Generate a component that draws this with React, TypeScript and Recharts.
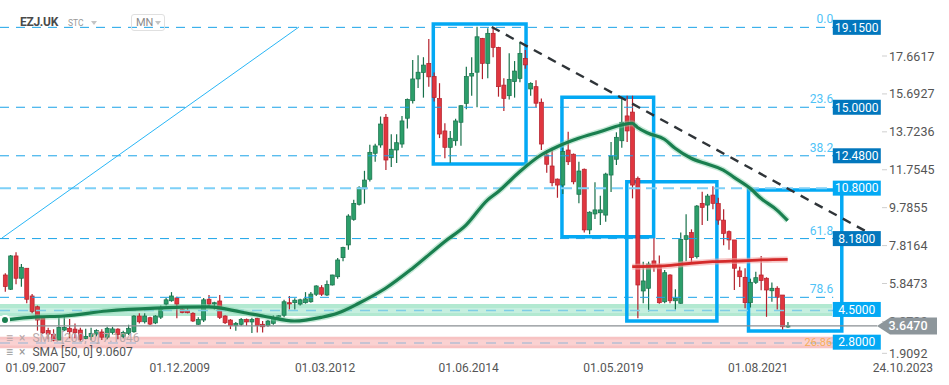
import React from 'react';
import {
  ComposedChart, Bar, Line, XAxis, YAxis, ReferenceLine, ReferenceArea, ReferenceDot,
} from 'recharts';

// monthly candles, EZJ.UK
const opens = [
  6.29, 5.55, 7.28, 6.12, 6.64, 5.2, 4.64, 4.07, 3.4, 3.21,
  2.91, 3.43, 3.52, 3.48, 3.43, 3.0, 3.09, 3.22, 3.33, 3.06,
  3.3, 3.48, 3.1, 3.26, 3.34, 4.16, 3.86, 4.07, 3.8, 4.1,
  4.78, 4.95, 5.1, 4.5, 4.45, 4.3, 3.73, 3.95, 5.03, 4.8,
  4.94, 4.16, 3.95, 3.66, 3.73, 3.98, 3.85, 4.04, 3.73, 3.66,
  3.78, 4.12, 4.2, 4.85, 4.85, 4.78, 4.85, 4.9, 5.29, 5.63,
  5.25, 5.77, 6.2, 7.19, 7.85, 9.18, 9.96, 10.76, 11.26, 12.61,
  13.04, 14.48, 12.38, 12.78, 13.09, 14.43, 15.34, 16.47, 16.8, 17.28,
  16.6, 15.45, 13.77, 12.92, 13.26, 14.22, 15.2, 16.62, 16.82, 18.58,
  17.28, 18.84, 18.11, 16.15, 15.6, 16.33, 16.5, 17.54, 15.95, 16.07,
  15.26, 12.52, 11.95, 11.27, 10.96, 12.78, 12.56, 10.48, 11.78, 8.63,
  9.46, 9.52, 9.4, 11.48, 12.3, 13.26, 14.55, 14.75, 11.31, 5.46,
  5.6, 7.02, 6.81, 4.9, 6.29, 4.95, 4.82, 8.14, 8.49, 7.24,
  10.01, 9.92, 10.44, 10.0, 9.14, 8.54, 8.11, 6.5, 6.17, 4.85,
  5.91, 6.29, 6.12, 5.47, 5.6, 5.25, 3.6,
];
const highs = [
  6.38, 7.33, 7.47, 6.86, 6.64, 5.3, 4.7, 4.12, 3.55, 3.47,
  4.12, 4.12, 4.0, 3.77, 3.55, 3.5, 3.55, 3.47, 3.47, 3.6,
  3.6, 3.52, 3.4, 3.7, 4.2, 4.3, 4.3, 4.12, 4.2, 4.7,
  5.1, 5.4, 5.16, 4.6, 4.6, 4.35, 4.1, 5.1, 5.25, 4.9,
  5.25, 4.2, 4.0, 3.85, 4.05, 4.03, 4.07, 4.07, 3.9, 3.95,
  4.2, 4.2, 5.0, 5.2, 5.08, 5.05, 5.4, 5.4, 5.76, 5.76,
  6.0, 6.3, 7.17, 7.76, 9.45, 10.2, 10.9, 11.7, 13.05, 13.1,
  14.52, 14.65, 13.6, 13.6, 14.55, 15.46, 17.45, 17.7, 17.6, 18.54,
  16.8, 16.25, 14.17, 13.77, 14.4, 15.1, 17.1, 17.6, 19.18, 18.6,
  19.1, 19.17, 18.14, 16.5, 17.8, 17.4, 18.4, 17.97, 16.3, 16.4,
  15.46, 12.78, 12.9, 11.3, 12.9, 13.73, 12.6, 12.17, 11.82, 9.6,
  11.1, 10.4, 11.6, 13.2, 13.7, 15.55, 15.6, 15.6, 11.4, 6.98,
  6.98, 8.2, 7.3, 6.55, 6.33, 5.55, 8.5, 9.45, 8.66, 9.92,
  10.61, 10.5, 10.9, 10.3, 9.7, 8.6, 8.11, 6.72, 6.64, 6.1,
  6.46, 7.27, 6.17, 5.9, 5.7, 5.25, 3.85,
];
const lows = [
  5.42, 5.51, 5.81, 5.68, 4.82, 4.3, 3.4, 3.23, 2.95, 2.85,
  2.91, 3.38, 3.0, 3.0, 2.88, 2.95, 2.9, 3.1, 2.91, 2.95,
  3.2, 2.95, 3.0, 3.17, 3.29, 3.77, 3.77, 3.69, 3.74, 4.0,
  4.7, 4.9, 4.04, 4.3, 4.3, 3.85, 3.7, 3.85, 4.6, 4.5,
  4.0, 3.75, 3.48, 3.4, 3.66, 3.65, 3.28, 3.3, 3.3, 3.6,
  3.7, 3.95, 4.1, 4.5, 4.5, 4.7, 4.8, 4.85, 5.2, 5.2,
  5.2, 5.75, 6.1, 7.0, 7.6, 9.1, 9.9, 10.0, 11.14, 12.17,
  12.9, 11.74, 11.9, 12.1, 12.9, 13.9, 15.2, 16.0, 15.5, 16.07,
  15.3, 13.4, 12.35, 12.12, 13.0, 13.0, 14.9, 15.6, 15.0, 16.46,
  16.5, 17.6, 15.55, 14.8, 15.4, 15.5, 16.3, 17.0, 15.6, 15.0,
  12.78, 11.6, 10.9, 10.3, 10.5, 12.0, 11.0, 10.01, 8.5, 8.4,
  9.2, 8.88, 9.05, 10.6, 12.0, 12.9, 13.2, 10.27, 4.04, 4.82,
  4.4, 6.46, 4.8, 4.82, 4.82, 4.5, 4.8, 7.0, 6.9, 7.15,
  8.88, 9.1, 9.7, 8.9, 7.84, 7.6, 5.51, 5.67, 4.56, 4.6,
  5.82, 5.5, 4.12, 4.9, 4.5, 3.46, 3.55,
];
const closes = [
  5.69, 7.28, 6.12, 6.69, 5.03, 4.4, 3.95, 3.29, 3.22, 2.91,
  3.57, 3.57, 3.34, 3.29, 2.95, 3.1, 3.26, 3.4, 3.06, 3.52,
  3.49, 3.2, 3.3, 3.52, 4.16, 3.86, 4.16, 3.74, 4.16, 4.6,
  5.0, 5.2, 4.78, 4.34, 4.33, 3.9, 3.98, 5.0, 4.78, 4.85,
  4.09, 3.81, 3.66, 3.78, 3.98, 3.85, 3.98, 3.66, 3.6, 3.9,
  4.09, 4.17, 4.9, 4.8, 4.98, 5.0, 5.05, 5.3, 5.72, 5.29,
  5.8, 6.29, 7.07, 7.71, 9.35, 10.01, 10.82, 11.22, 12.66, 12.99,
  14.13, 12.26, 12.82, 13.16, 14.29, 15.41, 16.47, 16.82, 17.19, 16.58,
  15.5, 13.61, 12.92, 13.39, 14.29, 15.08, 16.59, 16.76, 18.66, 17.28,
  18.84, 18.11, 16.07, 15.46, 16.45, 16.88, 17.8, 17.2, 16.24, 15.21,
  13.09, 12.04, 11.08, 10.96, 12.7, 12.17, 11.13, 11.69, 8.63, 9.55,
  9.67, 9.67, 11.53, 12.47, 13.44, 14.22, 13.77, 10.96, 5.77, 5.98,
  6.86, 6.72, 4.85, 6.41, 4.95, 5.08, 8.14, 8.33, 7.19, 9.87,
  9.8, 10.39, 10.01, 9.14, 8.45, 8.11, 6.64, 6.2, 4.85, 5.91,
  6.15, 6.0, 5.51, 5.6, 5.13, 3.6, 3.65,
];

// SMA readings at some candle indices
const sma50Idx = [0, 6, 11, 19, 28, 38, 44, 49, 54, 59, 62, 66, 71, 76, 82, 86, 90, 92, 96, 100, 103, 107, 111, 115, 117, 118, 120, 123, 125, 128, 131, 134, 136, 139, 141, 144, 146];
const sma50Val = [3.95, 4.11, 4.16, 4.42, 4.57, 4.63, 4.37, 4.11, 3.9, 4.09, 4.3, 4.82, 5.6, 6.63, 8.02, 8.88, 10.18, 10.61, 11.65, 12.52, 12.95, 13.39, 13.73, 14.08, 14.17, 13.95, 13.65, 13.34, 12.87, 12.35, 12.05, 11.74, 11.36, 10.79, 10.27, 9.66, 9.11];
const sma200Idx = [117, 123, 128, 132, 138, 141, 146];
const sma200Val = [6.72, 6.76, 6.9, 6.98, 7.03, 7.07, 7.1];

const xTickIdx = [5.7, 32.6, 59.7, 86.5, 113.5, 140.5, 167.5];
const xTickLabels = ['01.09.2007', '01.12.2009', '01.03.2012', '01.06.2014', '01.05.2019', '01.08.2021', '24.10.2023'];
const yTicks = [17.6617, 15.6927, 13.7236, 11.7545, 9.7855, 7.8164, 5.8473, 3.8782, 1.9092];

const priceLevels = [19.15, 15.0, 12.48, 10.8, 8.18, 4.5, 2.8];
const lightLevels = [10.8, 4.5, 2.8];
const fibRatios = ['0.0', '23.6', '38.2', '61.8', '78.6'];
const fibPrices = [19.15, 15.0, 12.48, 8.18, 5.13];
const lastPrice = 3.647;

// drawn boxes [idxFrom, idxTo, priceTop, priceBottom]
const boxes = [
  [79.9, 97.2, 19.32, 12.05],
  [103.9, 121.0, 15.52, 8.28],
  [116.0, 132.8, 11.13, 3.9],
  [138.7, 156.1, 10.7, 3.38],
];

const X_MIN = -0.93;
const X_MAX = 176.1;
const Y_DOMAIN = [1.875, 20.57];
const LINE_END = 154.5;
const TAG_X = 158.9;

const candles = opens.map((o, i) => {
  const a = sma50Idx.indexOf(i);
  const b = sma200Idx.indexOf(i);
  return {
    i, open: o, high: highs[i], low: lows[i], close: closes[i],
    sma50: a >= 0 ? sma50Val[a] : null,
    sma200: b >= 0 ? sma200Val[b] : null,
  };
});

const Candle = (props: any) => {
  const { x, y, width, height, payload } = props;
  if (!payload || x == null) return null;
  let top = y;
  let h = height;
  if (h < 0) { top = y + h; h = -h; }
  const { open, close, high, low } = payload;
  const k = high - low > 0 ? h / (high - low) : 0;
  const yO = top + (high - open) * k;
  const yC = top + (high - close) * k;
  const up = close >= open;
  const fill = up ? '#2c9e6a' : '#e0363f';
  const edge = up ? '#17704a' : '#b3202b';
  const cx = x + width / 2;
  return (
    <g>
      <line x1={cx} x2={cx} y1={top} y2={top + h} stroke={edge} strokeWidth={1.2} />
      <rect x={x} y={Math.min(yO, yC)} width={width} height={Math.max(1.2, Math.abs(yO - yC))} fill={fill} stroke={edge} strokeWidth={0.7} />
    </g>
  );
};

const YTick = (props: any) => {
  const { y, payload } = props;
  const ty = payload.value < 2 ? y - 6 : y;
  return (
    <g>
      <line x1={882} x2={887} y1={ty} y2={ty} stroke="#cfcfcf" />
      <text x={889} y={ty} dy={4.5} fontSize={12.5} fill="#555">{payload.value.toFixed(4)}</text>
    </g>
  );
};

// grey last-price tag, drawn as the tick of a second axis so it sits on top of the price ticks
const LastTag = (props: any) => {
  const { y } = props;
  const cx = 907;
  const pts = `${cx - 30},${y} ${cx - 17},${y - 8.5} ${cx + 30},${y - 8.5} ${cx + 30},${y + 8.5} ${cx - 17},${y + 8.5}`;
  return (
    <g>
      <polygon points={pts} fill="#8d969b" />
      <text x={cx + 1} y={y} dy={4.5} textAnchor="middle" fontSize={12.5} fontWeight={500} fill="#fff">{lastPrice.toFixed(4)}</text>
    </g>
  );
};

const PriceTag = (value: number) => (props: any) => {
  const { cx, cy } = props;
  const light = lightLevels.includes(value);
  return (
    <g>
      <rect x={cx - 24} y={cy - 7.5} width={48} height={15} fill={light ? '#03a9f4' : '#0277bd'} />
      <text x={cx} y={cy} dy={4.3} textAnchor="middle" fontSize={12} fill="#fff">{value.toFixed(4)}</text>
    </g>
  );
};

const FibLabel = (label: string) => (props: any) => {
  const { cx, cy } = props;
  return <text x={cx} y={cy - 4} textAnchor="end" fontSize={12} fill="#4fc3f7">{label}</text>;
};

const OrangeNote = (props: any) => (
  <text x={props.cx} y={props.cy} dy={4} textAnchor="end" fontSize={11} fill="#f5a742" fillOpacity={0.85}>26.86</text>
);

const dashed = (v: number, color: string, w: number, dash: string, key: string) => (
  <ReferenceLine key={key} segment={[{ x: X_MIN, y: v }, { x: LINE_END, y: v }]} stroke={color} strokeWidth={w} strokeDasharray={dash} ifOverflow="visible" />
);

export default function App() {
  return (
    <div style={{ position: 'absolute', left: 0, top: 0, width: 949, height: 385, background: '#fff', fontFamily: 'Roboto, "Open Sans", sans-serif' }}>
      <ComposedChart width={949} height={385} data={candles} margin={{ top: 0, right: 0, bottom: 0, left: 0 }}>
        <XAxis
          dataKey="i" type="number" domain={[X_MIN, X_MAX]} allowDataOverflow
          ticks={xTickIdx} interval={0} height={25}
          tickFormatter={(v: number) => xTickLabels[xTickIdx.indexOf(v)] ?? ''}
          axisLine={false} tickLine={false} tickSize={0} tickMargin={3}
          tick={{ fill: '#555', fontSize: 12 }}
        />
        <YAxis
          orientation="right" mirror domain={Y_DOMAIN} allowDataOverflow
          ticks={yTicks} interval={0} axisLine={false} tickLine={false} tick={<YTick />}
        />
        <YAxis
          yAxisId="tag" orientation="right" mirror domain={Y_DOMAIN} allowDataOverflow
          ticks={[lastPrice]} interval={0} axisLine={false} tickLine={false} tick={<LastTag />}
        />

        {/* support / resistance bands */}
        <ReferenceArea x1={X_MIN} x2={154.3} y1={4.16} y2={4.78} fill="#9fe3c6" fillOpacity={0.8} stroke="none" ifOverflow="visible" />
        <ReferenceArea x1={X_MIN} x2={154.3} y1={4.31} y2={4.57} fill="#d4f4e7" fillOpacity={0.6} stroke="none" ifOverflow="visible" />
        <ReferenceArea x1={X_MIN} x2={155} y1={2.48} y2={3.08} fill="#f6b9b9" fillOpacity={0.85} stroke="none" ifOverflow="visible" />
        <ReferenceArea x1={X_MIN} x2={155} y1={2.63} y2={2.94} fill="#fbd7d7" fillOpacity={0.7} stroke="none" ifOverflow="visible" />
        {dashed(4.45, '#7fcde6', 1.5, '10 8', 'g-mid')}
        {dashed(2.76, '#b6bfd4', 1.5, '10 8', 'r-mid')}

        {fibPrices.map((v, k) => dashed(v, '#1aa3e8', 1, '9 7', `fib${k}`))}
        {dashed(10.8, '#7dd0f7', 2, '11 6', 'lvl108')}
        <ReferenceLine segment={[{ x: X_MIN, y: lastPrice }, { x: 162.7, y: lastPrice }]} stroke="#8a8f93" strokeWidth={1.2} ifOverflow="visible" />

        <Bar dataKey={(d: any) => [d.low, d.high]} barSize={4} shape={Candle} isAnimationActive={false} />

        <Line dataKey="sma50" type="monotone" connectNulls dot={false} stroke="#7fcfa6" strokeOpacity={0.45} strokeWidth={6} isAnimationActive={false} />
        <Line dataKey="sma50" type="monotone" connectNulls dot={false} stroke="#1a7f4f" strokeWidth={3.2} isAnimationActive={false} />
        <Line dataKey="sma200" type="monotone" connectNulls dot={false} stroke="#f2a3a3" strokeOpacity={0.6} strokeWidth={6} isAnimationActive={false} />
        <Line dataKey="sma200" type="monotone" connectNulls dot={false} stroke="#d42a2a" strokeWidth={2.8} isAnimationActive={false} />

        <ReferenceLine segment={[{ x: -0.56, y: 8.21 }, { x: 54.85, y: 19.17 }]} stroke="#29b6f6" strokeWidth={1} ifOverflow="visible" />
        <ReferenceLine segment={[{ x: 90.8, y: 19.17 }, { x: 160.4, y: 8.59 }]} stroke="#2f3438" strokeWidth={2.4} strokeDasharray="9 7" ifOverflow="visible" />

        {boxes.map((b, k) => (
          <ReferenceArea key={`box${k}`} x1={b[0]} x2={b[1]} y1={b[3]} y2={b[2]} fill="none" stroke="#03a9f4" strokeWidth={3.5} ifOverflow="visible" />
        ))}

        {fibRatios.map((r, k) => (
          <ReferenceDot key={`fl${k}`} x={LINE_END} y={fibPrices[k]} r={0} shape={FibLabel(r)} ifOverflow="visible" />
        ))}
        <ReferenceDot x={154.3} y={2.8} r={0} shape={OrangeNote} ifOverflow="visible" />
        {priceLevels.map((v) => (
          <ReferenceDot key={`tag${v}`} x={TAG_X} y={v} r={0} shape={PriceTag(v)} ifOverflow="visible" />
        ))}
      </ComposedChart>

      {/* header */}
      <div style={{ position: 'absolute', left: 20, top: 15, fontSize: 12, fontWeight: 700, color: '#4a4a4a', letterSpacing: -0.3 }}>EZJ.UK</div>
      <div style={{ position: 'absolute', left: 68, top: 18, fontSize: 8.5, color: '#999' }}>STC</div>
      <div style={{ position: 'absolute', left: 91, top: 21, width: 0, height: 0, borderLeft: '3.5px solid transparent', borderRight: '3.5px solid transparent', borderTop: '4px solid #c4c4c4' }} />
      <div style={{ position: 'absolute', left: 131, top: 14, width: 34, height: 17, border: '1px solid #e0e0e0', borderRadius: 3, boxSizing: 'border-box' }}>
        <span style={{ position: 'absolute', left: 4, top: 1, fontSize: 11, color: '#8a8a8a' }}>MN</span>
        <span style={{ position: 'absolute', left: 23, top: 6, width: 0, height: 0, borderLeft: '3.5px solid transparent', borderRight: '3.5px solid transparent', borderTop: '4px solid #c4c4c4' }} />
      </div>

      {/* legend */}
      <div style={{ position: 'absolute', left: 6, top: 331, fontSize: 12, color: '#b7a7a9', whiteSpace: 'nowrap' }}>
        <span style={{ marginRight: 6 }}>≡</span><span style={{ marginRight: 7 }}>×</span>SMA [200, 0] 7.1046
      </div>
      <div style={{ position: 'absolute', left: 6, top: 345, fontSize: 12, color: '#555', whiteSpace: 'nowrap' }}>
        <span style={{ marginRight: 6, color: '#999' }}>≡</span><span style={{ marginRight: 7, color: '#999' }}>×</span>SMA [50, 0] 9.0607
      </div>
    </div>
  );
}
